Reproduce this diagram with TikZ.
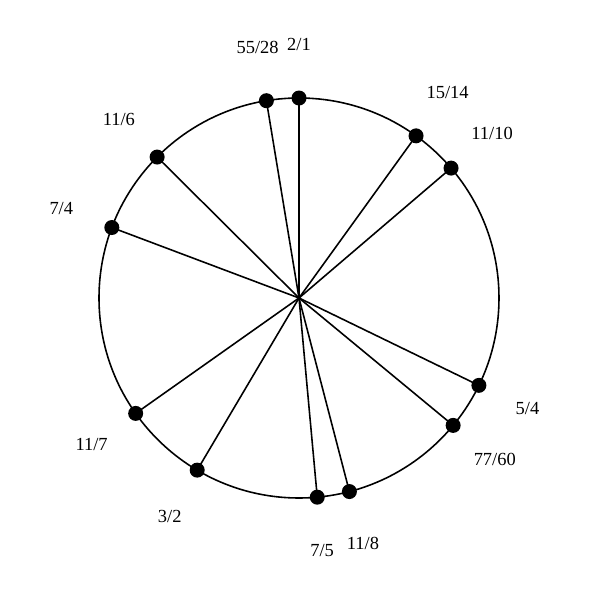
\documentclass[tikz,border=0pt]{standalone}
\usepackage{fontspec}
\setmainfont{Liberation Serif}
\usepackage{tikz}

\begin{document}
\begin{tikzpicture}[
    dot/.style={circle, fill=black, inner sep=0pt, minimum size=0.3cm},
    ratio/.style={font=\fontsize{10.5}{12}\selectfont}
  ]
        \useasboundingbox (-5.98cm,-6.04cm) rectangle (6.02cm,5.96cm);
        \coordinate (c) at (0,0);
        \draw[line width=0.9pt] (c) circle (4cm);
        \foreach \num / \den / \name in {2/1/a,55/28/b,11/6/c,7/4/d,11/7/e,3/2/f,7/5/g,11/8/h,77/60/i,5/4/j,11/10/k,15/14/l} {
            \pgfmathsetmacro{\ang}{90 - 360*ln(\num/\den)/ln(2)}
            \node[dot] (p\name) at (\ang:4cm) {};
            \draw[line width=0.9pt] (c) -- (p\name.center);
          \node[ratio] (t\name) at (\ang:5.08cm) {\num/\den};
        };
    \end{tikzpicture}
\end{document}
